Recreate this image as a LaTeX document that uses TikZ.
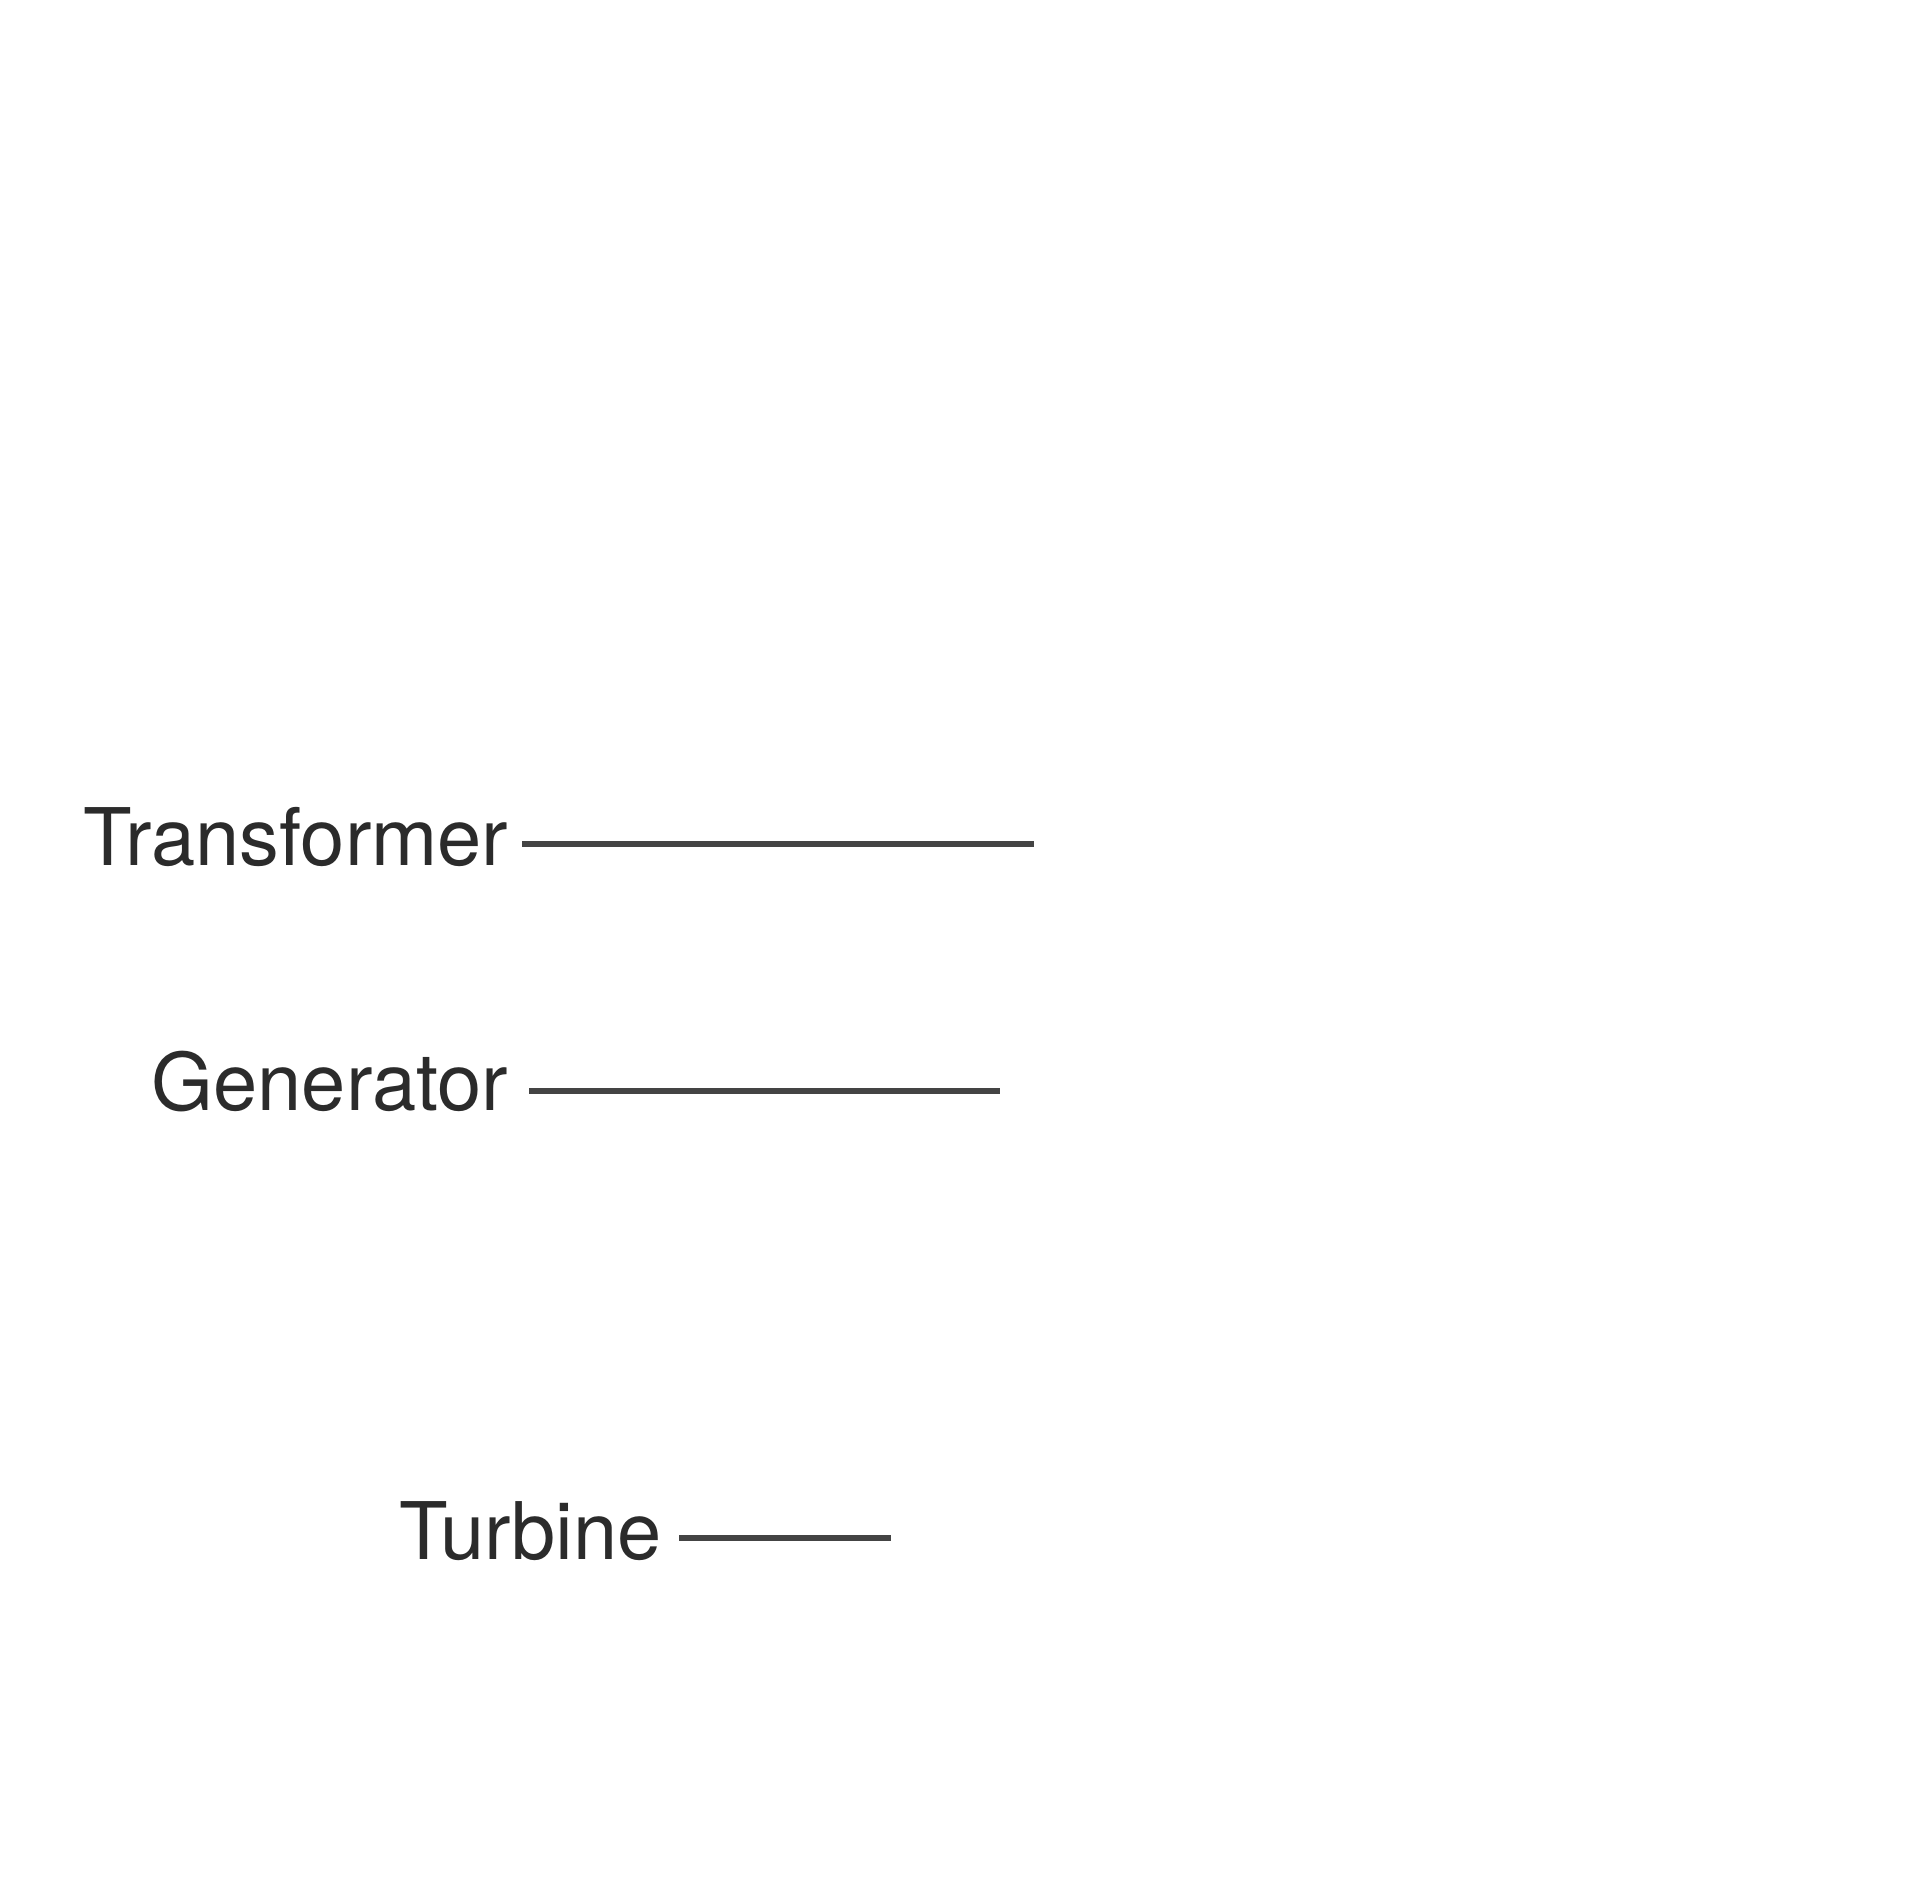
\documentclass[tikz,border=0pt]{standalone}
\usepackage{fontspec}
\setmainfont{TeX Gyre Heros}
\definecolor{txt}{HTML}{2B2B2B}
\definecolor{ln}{HTML}{444444}
\begin{document}
\begin{tikzpicture}[x=0.01cm,y=-0.01cm,
  lbl/.style={inner sep=0pt,anchor=base east,text=txt,font=\fontsize{22.6}{27}\selectfont},
  lead/.style={draw=ln,line width=1.8pt}]
\useasboundingbox[fill=white] (0,0) rectangle (1904,1904);
\node[lbl] (tr) at (509,865) {Transformer};
\coordinate (tra) at (522,844);
\coordinate (trb) at (1034,844);
\draw[lead] (tra) -- (trb);
\node[lbl] (ge) at (509,1110) {Generator};
\coordinate (gea) at (529,1091);
\coordinate (geb) at (1000,1091);
\draw[lead] (gea) -- (geb);
\node[lbl] (tu) at (662,1559) {Turbine};
\coordinate (tua) at (679,1538);
\coordinate (tub) at (891,1538);
\draw[lead] (tua) -- (tub);
\end{tikzpicture}
\end{document}
